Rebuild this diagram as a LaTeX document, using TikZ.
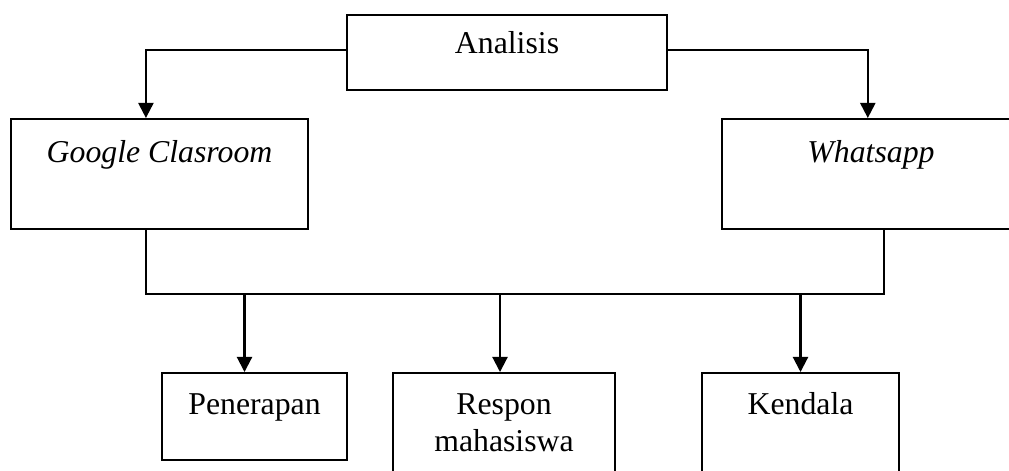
\documentclass[tikz,border=0pt]{standalone}
\usepackage{fontspec}
\setmainfont{Liberation Serif}
\usetikzlibrary{arrows.meta, positioning, calc}

\begin{document}
\begin{tikzpicture}[
  x=0.025cm, y=-0.025cm,
  box/.style={draw, line width=1.4pt, anchor=north west, inner sep=0pt, align=center, font=\fontsize{22.6}{26.3}\selectfont},
  arr/.style={-{Triangle[length=0.38cm, width=0.38cm]}, line width=1.5pt},
  lin/.style={line width=1.5pt}
]
\clip (0,0) rectangle (1009,470);

\node[box, minimum width=8cm, text height=0.95cm, text depth=0.925cm] (analisis) at (346,14) {Analisis};

\node[box, minimum width=7.425cm, text height=1.075cm, text depth=1.675cm] (google) at (10,118) {\itshape Google Clasroom};
\node[box, minimum width=7.45cm, text height=1.075cm, text depth=1.675cm] (whatsapp) at (721,118) {\itshape Whatsapp};

\node[box, minimum width=4.625cm, text height=1.025cm, text depth=1.15cm] (penerapan) at (161,372) {Penerapan};
\node[box, minimum width=5.55cm, text height=1.95cm, text depth=0.75cm] (respon) at (392,372) {Respon\\mahasiswa};
\node[box, minimum width=4.925cm, text height=1.025cm, text depth=1.675cm] (kendala) at (701,372) {Kendala};

% cabang dari analisis
\draw[arr] ([yshift=0.06cm]analisis.west) -| ([xshift=-0.34cm]google.north);
\draw[arr] ([yshift=0.06cm]analisis.east) -| ([xshift=-0.08cm]whatsapp.north);

% garis gabungan
\coordinate (busL) at ([xshift=-0.34cm]google.south |- 0,294);
\coordinate (busR) at ([xshift=0.33cm]whatsapp.south |- 0,294);
\draw[lin] ([xshift=-0.34cm]google.south) -- (busL) -- (busR) -- ([xshift=0.33cm]whatsapp.south);

\draw[arr] ([xshift=-0.25cm]penerapan.north |- busL) -- ([xshift=-0.25cm]penerapan.north);
\draw[arr] ([xshift=-0.1cm]respon.north |- busL) -- ([xshift=-0.1cm]respon.north);
\draw[arr] (kendala.north |- busL) -- (kendala.north);
\end{tikzpicture}
\end{document}
